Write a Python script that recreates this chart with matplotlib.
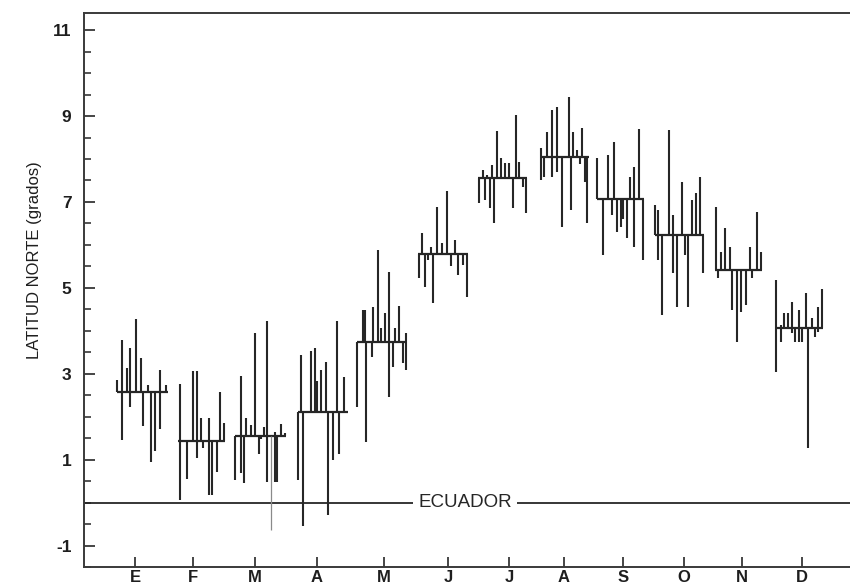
# coding=utf-8
"""
Latitud norte media mensual de la zona de convergencia (grados)
"""

import matplotlib
matplotlib.use('Agg')
import matplotlib.pyplot as plt
from matplotlib.ticker import MultipleLocator, FixedLocator

# Meses y posición de sus marcas (día del año)
months = ['E', 'F', 'M', 'A', 'M', 'J', 'J', 'A', 'S', 'O', 'N', 'D']
month_ticks = [15, 44, 75, 106, 139.5, 171.5, 202, 229.5, 259, 289.5, 318.5, 348.5]

# Media mensual y extensión del tramo horizontal (días)
means = [2.57, 1.43, 1.55, 2.12, 3.74, 5.79, 7.55, 8.05, 7.06, 6.23, 5.42, 4.06]
group_start = [6, 36.5, 65, 96.5, 126, 156.5, 186.5, 217.5, 246, 275, 305, 335]
group_end = [31.5, 60, 90.5, 121.5, 151, 181.5, 211, 242, 269.5, 299.5, 328.5, 359]

# Trazos verticales de cada mes: día, valor bajo, valor alto
seg_day = [
    [6, 8.5, 11, 12.5, 15.5, 18, 19, 21.5, 23, 25, 27.5, 30.5],
    [37.5, 41, 44, 46, 48, 49, 52, 53.5, 56, 57.5, 59.5],
    [65, 68, 69.5, 70.5, 73, 75, 77, 78, 79.5, 81, 83, 85, 86, 88, 90],
    [96.5, 98, 99, 103, 105, 106, 108, 110.5, 111.5, 114, 116, 117, 119.5],
    [126, 129, 130, 130.5, 133.5, 134, 136.5, 138, 140, 142, 144, 145, 147, 149, 150.5],
    [157, 158.5, 160, 161.5, 163, 164, 166, 168.5, 171, 173, 175, 176.5, 179, 181],
    [187, 189, 190, 191, 192.5, 193.5, 194.5, 196, 198, 200, 202, 204, 205.5, 207, 209, 210.5],
    [218, 219.5, 221, 223.5, 226, 228.5, 232, 233, 234, 236, 237.5, 238.5, 240, 241],
    [246, 249, 251.5, 253.5, 254.5, 256, 258, 259, 261, 262.5, 264.5, 267, 269],
    [275, 276.5, 278.5, 282, 284, 286, 288.5, 290, 291.5, 293.5, 295.5, 297.5, 299],
    [305.5, 306.5, 308, 310, 312.5, 313.5, 316, 318, 320.5, 322.5, 323.5, 326, 328],
    [335.5, 338, 339.5, 341.5, 343.5, 345, 347, 348.5, 350.5, 351.5, 353.5, 355, 356.5, 358.5],
]
seg_lo = [
    [2.57, 1.46, 2.57, 2.23, 2.57, 2.57, 1.79, 2.57, 0.94, 1.20, 1.72, 2.57],
    [0.07, 0.55, 1.43, 1.04, 1.43, 1.27, 0.17, 0.17, 0.72, 1.43, 1.43],
    [0.53, 0.69, 0.46, 1.55, 1.55, 1.55, 1.12, 1.47, 1.55, 0.49, -0.63, 0.49, 0.49, 1.55, 1.55],
    [0.53, 2.12, -0.55, 2.12, 2.12, 2.12, 2.12, 2.12, -0.28, 1.00, 2.12, 1.12, 2.12],
    [2.23, 3.74, 3.74, 1.40, 3.40, 3.74, 3.74, 3.74, 3.74, 2.47, 3.16, 3.74, 3.74, 3.26, 3.09],
    [5.23, 5.79, 5.02, 5.65, 5.79, 4.65, 5.79, 5.79, 5.79, 5.51, 5.79, 5.30, 5.53, 4.79],
    [6.98, 7.55, 7.05, 7.55, 6.86, 7.55, 6.51, 7.55, 7.55, 7.55, 7.55, 6.86, 7.55, 7.55, 7.35, 6.74],
    [7.51, 7.58, 8.05, 7.58, 7.70, 6.42, 8.05, 6.82, 8.05, 8.05, 7.88, 8.05, 7.47, 6.51],
    [7.06, 5.77, 7.06, 6.70, 7.06, 6.30, 6.42, 6.60, 6.16, 7.06, 5.95, 7.06, 5.65],
    [6.23, 5.65, 4.37, 6.23, 5.35, 4.56, 6.23, 5.77, 4.56, 6.23, 6.23, 6.23, 5.35],
    [5.42, 5.23, 5.42, 5.42, 5.42, 4.49, 3.74, 4.44, 4.60, 5.42, 5.23, 5.42, 5.42],
    [3.05, 3.74, 4.06, 4.06, 3.95, 3.74, 3.74, 3.74, 4.06, 1.28, 4.06, 3.86, 3.98, 4.06],
]
seg_hi = [
    [2.86, 3.78, 3.14, 3.60, 4.27, 3.37, 2.57, 2.74, 2.57, 2.57, 3.09, 2.74],
    [2.77, 1.43, 3.06, 3.06, 1.97, 1.43, 1.97, 1.43, 1.43, 2.57, 1.85],
    [1.55, 2.95, 1.55, 1.97, 1.81, 3.95, 1.55, 1.55, 1.77, 4.22, 1.55, 1.65, 1.55, 1.84, 1.63],
    [2.12, 3.44, 2.12, 3.52, 3.60, 2.82, 3.09, 3.28, 2.12, 2.12, 4.22, 2.12, 2.93],
    [3.74, 4.49, 4.49, 3.74, 3.74, 4.56, 5.88, 4.07, 4.41, 5.37, 3.74, 4.07, 4.58, 3.74, 3.95],
    [5.79, 6.28, 5.79, 5.79, 5.95, 5.79, 6.88, 6.04, 7.26, 5.79, 6.12, 5.79, 5.79, 5.79],
    [7.55, 7.74, 7.55, 7.63, 7.55, 7.86, 7.55, 8.65, 8.02, 7.90, 7.90, 7.55, 9.02, 7.93, 7.55, 7.55],
    [8.26, 8.05, 8.63, 9.14, 9.21, 8.05, 9.44, 8.05, 8.63, 8.21, 8.05, 8.72, 8.05, 8.05],
    [8.02, 7.06, 8.09, 7.06, 8.40, 7.06, 7.06, 7.06, 7.06, 7.58, 7.81, 8.70, 7.06],
    [6.93, 6.81, 6.23, 8.67, 6.70, 6.23, 7.47, 6.23, 6.23, 7.05, 7.21, 7.58, 6.23],
    [6.88, 5.42, 5.84, 6.40, 5.95, 5.42, 5.42, 5.42, 5.42, 5.95, 5.42, 6.77, 5.84],
    [5.19, 4.14, 4.41, 4.41, 4.67, 4.06, 4.49, 4.06, 4.88, 4.06, 4.30, 4.06, 4.56, 4.98],
]
faint = [(2, 10)]  # trazo más claro en marzo

INK = '#262626'
plt.rcParams['font.family'] = ['Liberation Sans', 'DejaVu Sans']
plt.rcParams['axes.unicode_minus'] = False

fig = plt.figure(figsize=(8.5, 5.85), dpi=100)
ax = fig.add_axes([84 / 850, 18 / 585, 766 / 850, 554 / 585])
ax.set_xlim(-10.5, 372.5)
ax.set_ylim(-1.5, 11.4)

# Ecuador
ax.axhline(0, color=INK, linewidth=1.3, zorder=1)
ax.text(180, 0, 'ECUADOR', ha='center', va='center', fontsize=13.5, color=INK,
        bbox=dict(facecolor='white', edgecolor='none', pad=3.5), zorder=2)

# Medias mensuales y trazos
for m in range(len(months)):
    ax.hlines(means[m], group_start[m], group_end[m], color=INK, linewidth=1.6, zorder=3)
    for k in range(len(seg_day[m])):
        if (m, k) in faint:
            col, lw = '#8a8a8a', 0.9
        else:
            col, lw = INK, 1.5
        ax.vlines(seg_day[m][k], seg_lo[m][k], seg_hi[m][k], color=col, linewidth=lw, zorder=3)

# Ejes
ax.spines['right'].set_visible(False)
for s in ['left', 'bottom', 'top']:
    ax.spines[s].set_color('#3a3a3a')
    ax.spines[s].set_linewidth(1.4)

ax.yaxis.set_major_locator(FixedLocator([-1, 1, 3, 5, 7, 9, 11]))
ax.yaxis.set_minor_locator(MultipleLocator(0.5))
ax.tick_params(axis='y', which='major', direction='in', length=8, width=1.2,
               color=INK, labelsize=12.5, labelcolor='#1e1e1e', pad=9)
ax.tick_params(axis='y', which='minor', direction='in', length=5, width=1.1, color=INK)
for lab in ax.get_yticklabels():
    lab.set_fontweight('bold')

ax.set_xticks(month_ticks)
ax.set_xticklabels(months, fontweight='bold')
ax.tick_params(axis='x', which='major', direction='in', length=7, width=1.2,
               color=INK, labelsize=12, labelcolor='#1e1e1e', pad=2)

fig.text(35 / 850, 1 - 260 / 585, 'LATITUD NORTE (grados)', rotation=90,
         ha='center', va='center', fontsize=12, color='#1e1e1e')

fig.savefig('out.png', dpi=100)
